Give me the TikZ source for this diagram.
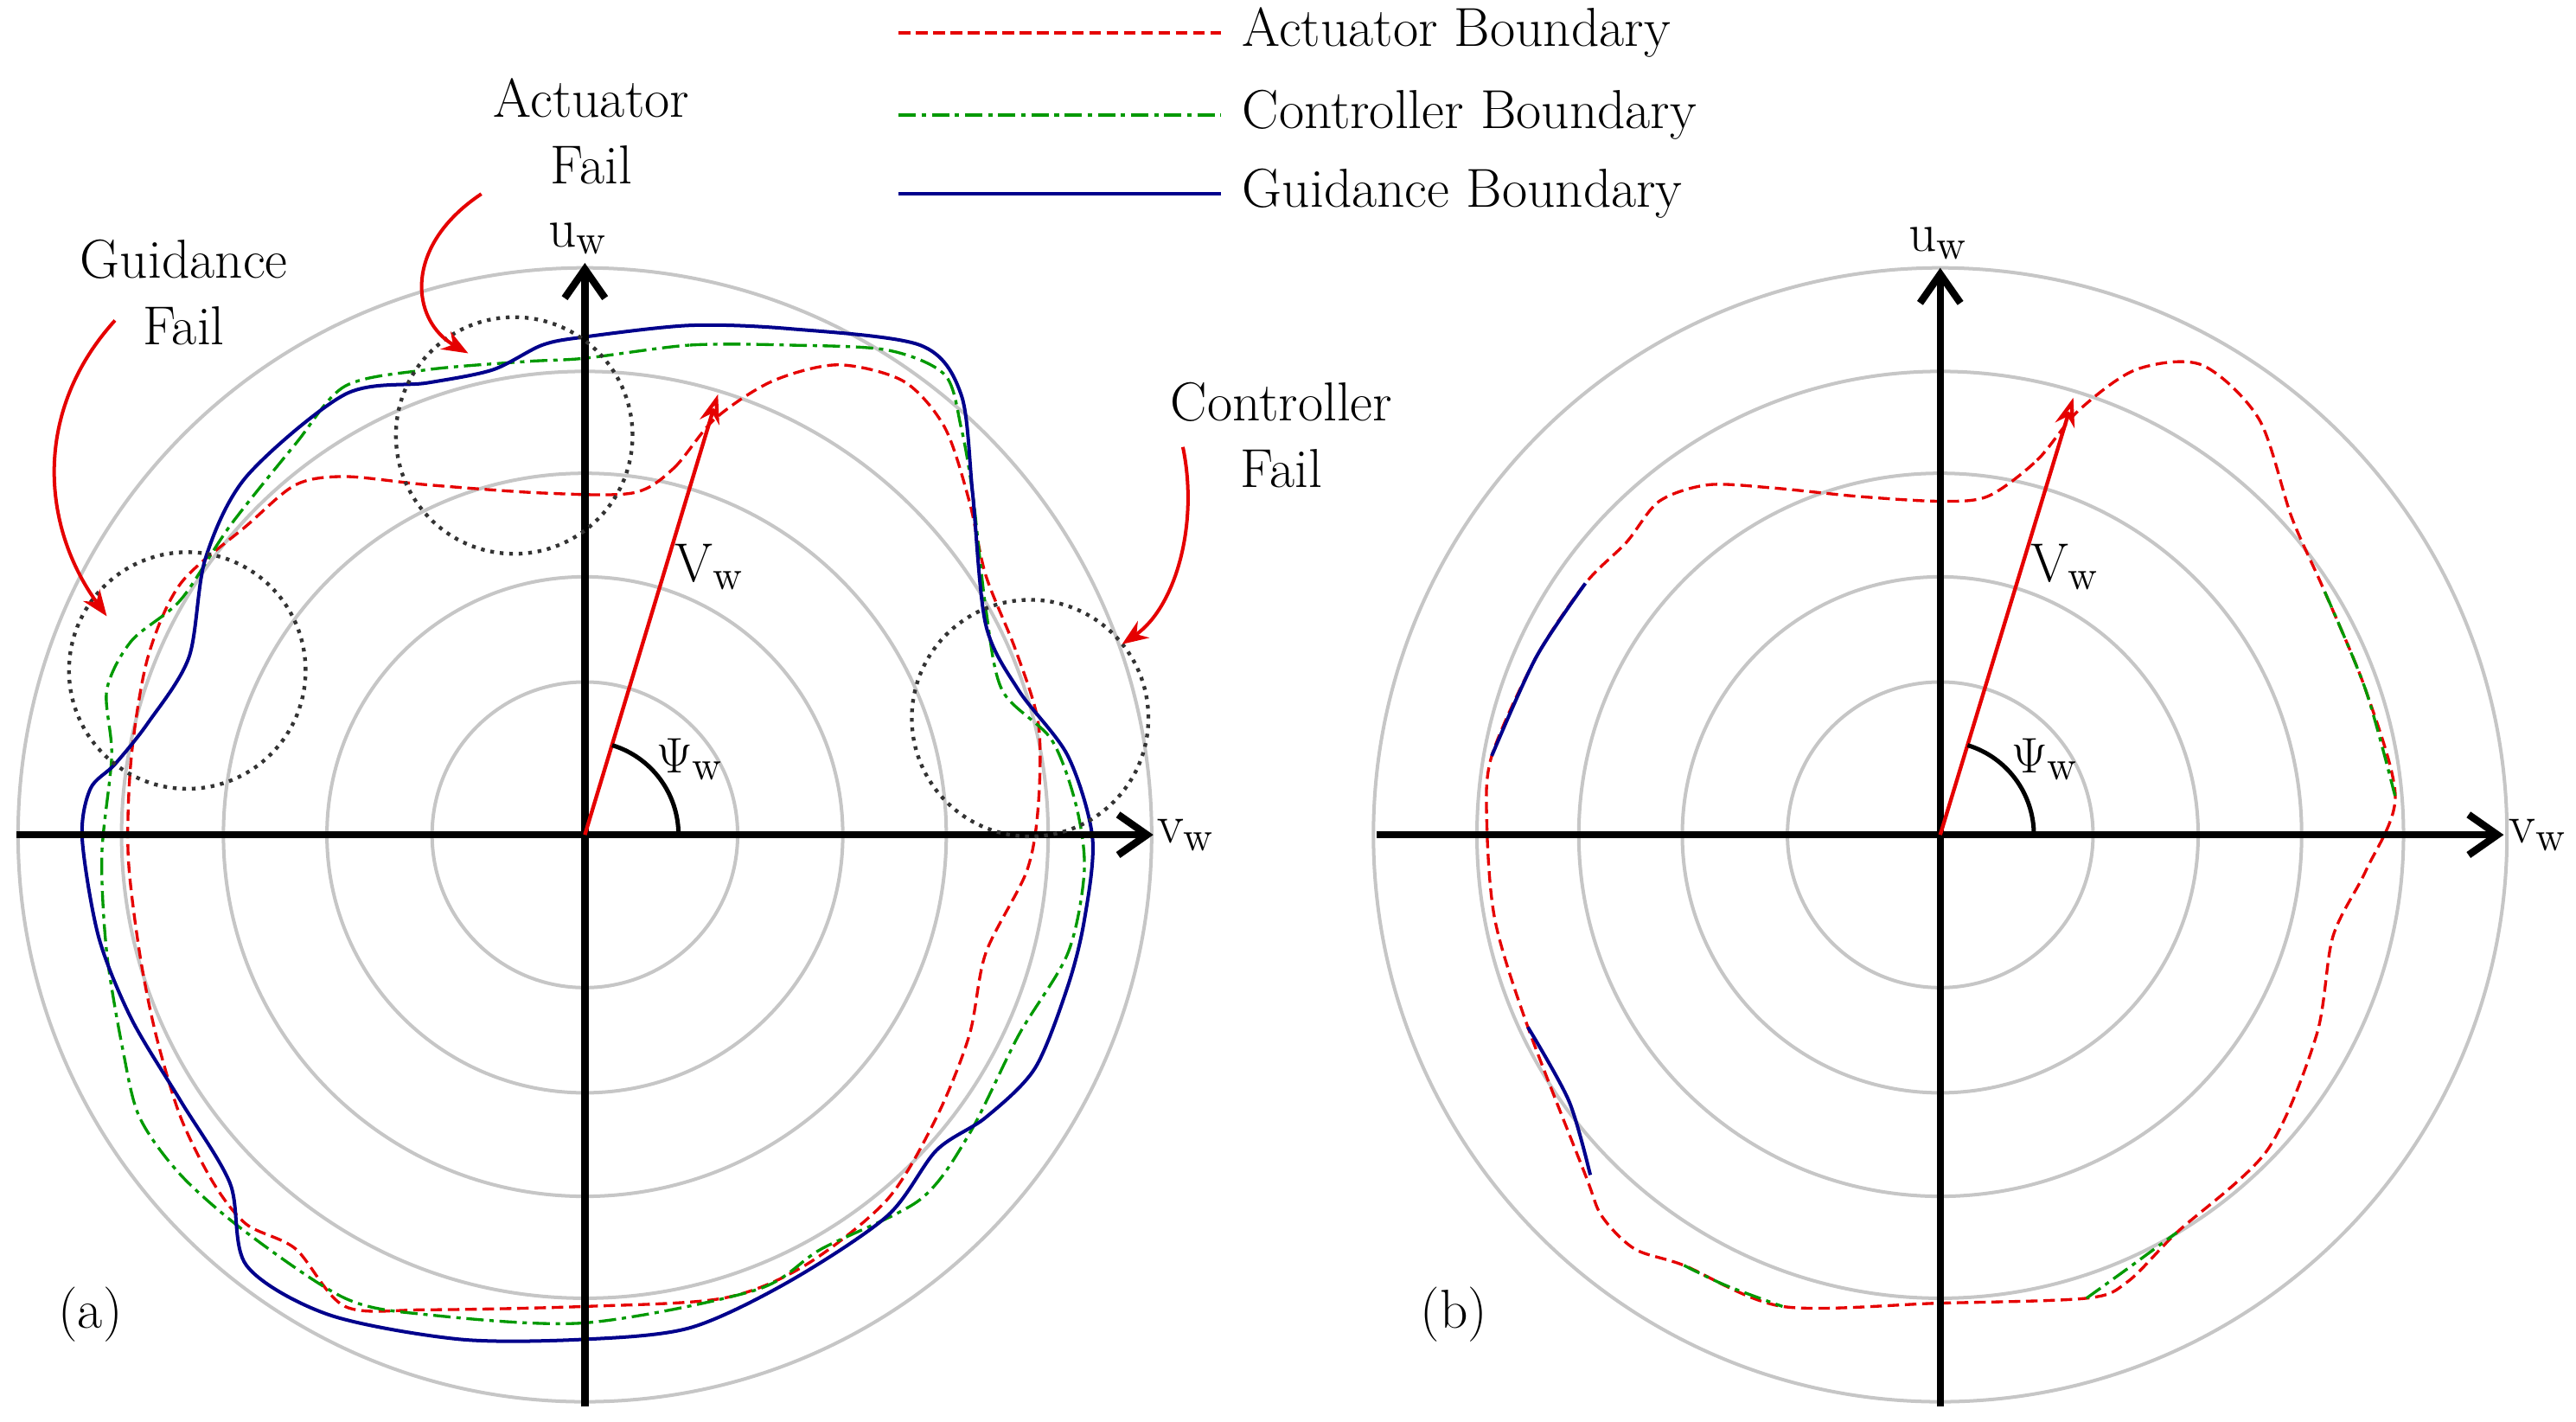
\documentclass[tikz,border=0pt]{standalone}
\usetikzlibrary{arrows.meta}
\begin{document}
\begin{tikzpicture}[x=0.02cm,y=-0.02cm,
  grid/.style={gray!45,line width=1.2pt},
  ax/.style={line width=2.5pt,-{Straight Barb[length=10pt,width=14pt]}},
  act/.style={red!90!black,dashed,line width=1pt,dash pattern=on 4pt off 2pt},
  ctl/.style={green!60!black,line width=1pt,dash pattern=on 6pt off 2pt on 1.5pt off 2pt},
  gui/.style={blue!55!black,line width=1.2pt},
  dcirc/.style={black!80,dotted,line width=1.3pt},
  lab/.style={font=\fontsize{19}{23}\selectfont},
  ann/.style={red!90!black,line width=1.2pt,-{Stealth[length=9pt,width=7pt]}}]
\useasboundingbox (0,0) rectangle (1568,865);
\foreach \cx/\n in {356/L,1181/R}{
  \coordinate (c\n) at (\cx,508);
  \foreach \r in {93,157,220,282,345}{\draw[grid] (c\n) circle[radius=\r*0.02cm];}
}
\draw[act] plot[smooth cycle] coordinates {(385,300)(410,285)(435,255)(470,232)(510,222)(550,232)(575,260)(590,305)(600,350)(618,395)(632,440)(632,490)(625,530)(600,580)(590,630)(570,680)(540,730)(490,770)(440,790)(356,795)(260,797)(210,795)(180,760)(150,745)(130,720)(110,680)(95,630)(85,580)(78,520)(80,460)(90,400)(110,355)(150,320)(180,295)(210,290)(260,295)(330,300)};
\draw[ctl] plot[smooth cycle] coordinates {(356,218)(420,210)(480,210)(540,213)(575,228)(585,260)(592,300)(600,370)(610,420)(640,450)(655,490)(660,530)(650,580)(620,630)(590,690)(560,730)(500,760)(460,785)(356,805)(260,800)(210,790)(150,750)(110,715)(85,680)(75,640)(65,580)(62,520)(68,460)(65,420)(80,390)(110,365)(140,320)(180,270)(210,235)(260,225)(320,220)};
\draw[gui] plot[smooth cycle] coordinates {(356,205)(420,198)(480,200)(560,210)(585,240)(592,300)(600,380)(620,420)(650,460)(665,510)(660,560)(650,600)(630,650)(600,680)(570,700)(540,740)(480,780)(420,808)(356,815)(280,815)(200,800)(150,770)(140,720)(110,670)(80,620)(60,570)(50,510)(55,480)(70,465)(90,440)(115,400)(125,340)(150,290)(210,240)(260,233)(300,225)(330,210)};
\draw[act] plot[smooth cycle] coordinates {(1210,302)(1240,280)(1265,250)(1300,225)(1340,222)(1375,255)(1395,315)(1415,360)(1440,420)(1458,485)(1440,530)(1420,570)(1410,630)(1380,700)(1325,750)(1295,780)(1270,790)(1180,793)(1085,795)(1025,770)(995,760)(975,740)(965,715)(930,625)(910,560)(905,500)(908,460)(935,400)(965,355)(990,330)(1010,305)(1040,295)(1080,297)(1130,302)(1180,305)};
\draw[gui] plot[smooth] coordinates {(908,460)(935,400)(965,355)};
\draw[ctl] plot[smooth] coordinates {(1415,360)(1440,420)(1458,485)};
\draw[gui] plot[smooth] coordinates {(930,625)(955,670)(968,715)};
\draw[ctl] plot[smooth] coordinates {(1025,770)(1050,782)(1085,795)};
\draw[ctl] plot[smooth] coordinates {(1270,790)(1295,772)(1325,750)};
\coordinate (lw) at (10,508); \coordinate (le) at (702,508);
\coordinate (ls) at (356,856); \coordinate (ln) at (356,160);
\coordinate (rw) at (838,508); \coordinate (re) at (1524,508);
\coordinate (rs) at (1181,856); \coordinate (rn) at (1181,163);
\draw[ax] (lw) -- (le); \draw[ax] (ls) -- (ln);
\draw[ax] (rw) -- (re); \draw[ax] (rs) -- (rn);
\coordinate (vl) at (437,240); \coordinate (vr) at (1262,242);
\draw[red!90!black,line width=1.3pt,-{Stealth[length=10pt,width=7pt,open]}] (cL) -- (vl);
\draw[red!90!black,line width=1.3pt,-{Stealth[length=10pt,width=7pt,open]}] (cR) -- (vr);
\draw[line width=1.5pt] ([shift={(57,0)}]cL) arc[start angle=0,end angle=-73,radius=57];
\draw[line width=1.5pt] ([shift={(57,0)}]cR) arc[start angle=0,end angle=-73,radius=57];
\node[lab] (uL) at (352,145) {u$_{\mathrm w}$};
\node[lab] (vL) at (722,508) {v$_{\mathrm w}$};
\node[lab] (VL) at (432,345) {V$_{\mathrm w}$};
\node[lab] (pL) at (420,462) {$\Psi_{\mathrm w}$};
\node[lab] (uR) at (1180,148) {u$_{\mathrm w}$};
\node[lab] (vR) at (1545,508) {v$_{\mathrm w}$};
\node[lab] (VR) at (1257,345) {V$_{\mathrm w}$};
\node[lab] (pR) at (1245,462) {$\Psi_{\mathrm w}$};
\node[lab] (a) at (55,800) {(a)};
\node[lab] (b) at (885,800) {(b)};
\draw[dcirc] (313,265) circle[radius=72*0.02cm];
\draw[dcirc] (114,408) circle[radius=72*0.02cm];
\draw[dcirc] (627,437) circle[radius=72*0.02cm];
\node[lab,align=center] (af) at (360,80) {Actuator\\Fail};
\node[lab,align=center] (gf) at (112,178) {Guidance\\Fail};
\node[lab,align=center] (cf) at (780,265) {Controller\\Fail};
\coordinate (a1) at (293,118); \coordinate (a2) at (285,215);
\coordinate (g1) at (70,195); \coordinate (g2) at (65,375);
\coordinate (k1) at (720,272); \coordinate (k2) at (683,392);
\draw[ann] (a1) .. controls (245,150) and (250,195) .. (a2);
\draw[ann] (g1) .. controls (20,250) and (25,320) .. (g2);
\draw[ann] (k1) .. controls (730,320) and (715,370) .. (k2);
\foreach \y/\s/\t in {20/act/Actuator Boundary,70/ctl/Controller Boundary,118/gui/Guidance Boundary}{
  \coordinate (l1\y) at (547,\y); \coordinate (l2\y) at (743,\y);
  \draw[\s] (l1\y) -- (l2\y);
  \node[lab,anchor=west] at (750,\y) {\t};
}
\end{tikzpicture}
\end{document}
